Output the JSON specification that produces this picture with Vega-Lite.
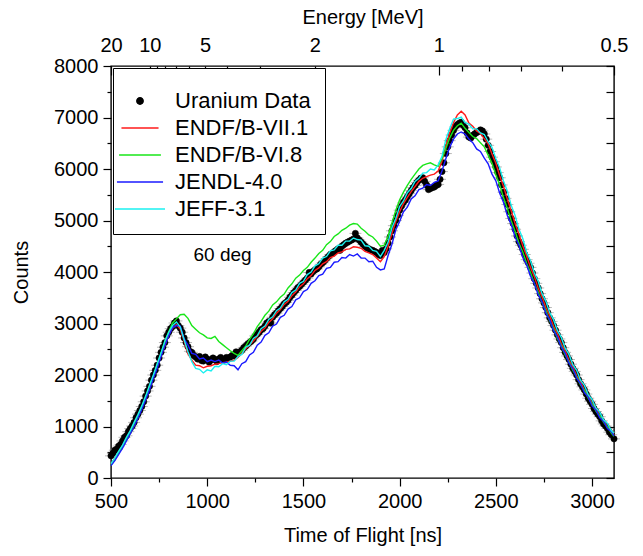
{
  "$schema": "https://vega.github.io/schema/vega-lite/v6.json",
  "width": 503,
  "height": 412,
  "autosize": "none",
  "padding": {"left": 111, "top": 66, "right": 29, "bottom": 78},
  "background": "white",
  "config": {
    "font": "Liberation Sans",
    "view": {"stroke": "#000", "strokeWidth": 1.4},
    "axis": {
      "domain": false, "grid": false, "tickColor": "#000", "tickWidth": 1.2,
      "labelColor": "#000", "titleColor": "#000", "labelFontSize": 20, "titleFontSize": 20,
      "titleFontWeight": "normal", "labelFlush": false, "labelOverlap": false
    },
    "legend": {
      "orient": "top-left", "offset": 2, "padding": 14, "strokeColor": "#000", "strokeWidth": 1,
      "fillColor": "#fff", "cornerRadius": 0, "labelFontSize": 22, "labelColor": "#000",
      "labelOffset": 24, "symbolOffset": 2, "rowPadding": 5, "symbolStrokeWidth": 1.5,
      "titleFontSize": 4, "titlePadding": 4, "labelLimit": 400, "titleLimit": 1000
    }
  },
  "datasets": {
    "d": [
      {"t":500,"U":430,"R":270,"G":250,"B":240,"C":280},
      {"t":510,"U":480},
      {"t":520,"U":540,"R":390,"G":350,"B":340,"C":390},
      {"t":530,"U":560},
      {"t":540,"U":620,"R":490,"G":500,"B":460,"C":520},
      {"t":550,"U":650},
      {"t":560,"U":720,"R":630,"G":600,"B":580,"C":640},
      {"t":570,"U":790},
      {"t":580,"U":820,"R":750,"G":750,"B":720,"C":790},
      {"t":590,"U":900},
      {"t":600,"U":960,"R":910,"G":880,"B":860,"C":920},
      {"t":610,"U":1010},
      {"t":620,"U":1080,"R":1050,"G":1050,"B":1000,"C":1080},
      {"t":630,"U":1170},
      {"t":640,"U":1240,"R":1210,"G":1190,"B":1160,"C":1230},
      {"t":650,"U":1310},
      {"t":660,"U":1390,"R":1370,"G":1380,"B":1330,"C":1400},
      {"t":670,"U":1480},
      {"t":680,"U":1590,"R":1570,"G":1560,"B":1520,"C":1590},
      {"t":690,"U":1690},
      {"t":700,"U":1780,"R":1750,"G":1780,"B":1710,"C":1800},
      {"t":710,"U":1900},
      {"t":720,"U":2000,"R":1970,"G":1960,"B":1930,"C":2000},
      {"t":730,"U":2090},
      {"t":740,"U":2190,"R":2160,"G":2200,"B":2130,"C":2220},
      {"t":750,"U":2330},
      {"t":760,"U":2440,"R":2390,"G":2420,"B":2360,"C":2430},
      {"t":770,"U":2540},
      {"t":780,"U":2630,"R":2580,"G":2650,"B":2570,"C":2660},
      {"t":790,"U":2760},
      {"t":800,"U":2830,"R":2790,"G":2840,"B":2760,"C":2830},
      {"t":810,"U":2900},
      {"t":820,"U":2940,"R":2910,"G":3010,"B":2920,"C":2960},
      {"t":830,"U":3010},
      {"t":840,"U":3050,"R":2980,"G":3090,"B":2960,"C":3030},
      {"t":850,"U":2960},
      {"t":860,"U":2910,"R":2890,"G":3170,"B":2950,"C":2930},
      {"t":870,"U":2830},
      {"t":880,"U":2720,"R":2660,"G":3180,"B":2700,"C":2690},
      {"t":890,"U":2630},
      {"t":900,"U":2550,"R":2410,"G":3100,"B":2580,"C":2450},
      {"t":910,"U":2460},
      {"t":920,"U":2440,"R":2290,"G":2960,"B":2420,"C":2260},
      {"t":930,"U":2380},
      {"t":940,"U":2350,"R":2190,"G":2890,"B":2400,"C":2130},
      {"t":950,"U":2310},
      {"t":960,"U":2360,"R":2180,"G":2820,"B":2310,"C":2110},
      {"t":970,"U":2280},
      {"t":980,"U":2270,"R":2140,"G":2780,"B":2330,"C":2040},
      {"t":990,"U":2350},
      {"t":1000,"U":2310,"R":2170,"G":2720,"B":2260,"C":2100},
      {"t":1010,"U":2250},
      {"t":1020,"U":2290,"R":2180,"G":2710,"B":2290,"C":2080},
      {"t":1030,"U":2330},
      {"t":1040,"U":2300,"R":2210,"G":2750,"B":2260,"C":2170},
      {"t":1050,"U":2260},
      {"t":1060,"U":2310,"R":2220,"G":2650,"B":2290,"C":2160},
      {"t":1070,"U":2340},
      {"t":1080,"U":2300,"R":2240,"G":2590,"B":2230,"C":2220},
      {"t":1090,"U":2290},
      {"t":1100,"U":2340,"R":2250,"G":2530,"B":2250,"C":2200},
      {"t":1110,"U":2310},
      {"t":1120,"U":2350,"R":2270,"G":2470,"B":2190,"C":2270},
      {"t":1130,"U":2380},
      {"t":1140,"U":2370,"R":2290,"G":2420,"B":2180,"C":2270},
      {"t":1150,"U":2450},
      {"t":1160,"U":2420,"R":2340,"G":2380,"B":2100,"C":2360},
      {"t":1170,"U":2450},
      {"t":1180,"U":2480,"R":2430,"G":2470,"B":2220,"C":2400},
      {"t":1190,"U":2530},
      {"t":1200,"U":2560,"R":2510,"G":2560,"B":2260,"C":2540},
      {"t":1210,"U":2600},
      {"t":1220,"U":2630,"R":2580,"G":2690,"B":2390,"C":2580},
      {"t":1230,"U":2660},
      {"t":1240,"U":2700,"R":2660,"G":2800,"B":2440,"C":2710},
      {"t":1250,"U":2760},
      {"t":1260,"U":2790,"R":2750,"G":2940,"B":2580,"C":2760},
      {"t":1270,"U":2830},
      {"t":1280,"U":2880,"R":2850,"G":3040,"B":2640,"C":2900},
      {"t":1290,"U":2900},
      {"t":1300,"U":2950,"R":2910,"G":3160,"B":2770,"C":2950},
      {"t":1310,"U":3010},
      {"t":1320,"U":3040,"R":3020,"G":3240,"B":2820,"C":3080},
      {"t":1330,"U":3010},
      {"t":1340,"U":3120,"R":3090,"G":3360,"B":2950,"C":3130},
      {"t":1350,"U":3170},
      {"t":1360,"U":3200,"R":3200,"G":3420,"B":2990,"C":3250},
      {"t":1370,"U":3250},
      {"t":1380,"U":3290,"R":3270,"G":3510,"B":3120,"C":3300},
      {"t":1390,"U":3330},
      {"t":1400,"U":3380,"R":3370,"G":3570,"B":3160,"C":3420},
      {"t":1410,"U":3410},
      {"t":1420,"U":3450,"R":3430,"G":3690,"B":3280,"C":3470},
      {"t":1430,"U":3510},
      {"t":1440,"U":3550,"R":3540,"G":3770,"B":3330,"C":3600},
      {"t":1450,"U":3600},
      {"t":1460,"U":3640,"R":3610,"G":3880,"B":3460,"C":3650},
      {"t":1470,"U":3690},
      {"t":1480,"U":3720,"R":3710,"G":3940,"B":3500,"C":3780},
      {"t":1490,"U":3760},
      {"t":1500,"U":3800,"R":3770,"G":4030,"B":3620,"C":3820},
      {"t":1510,"U":3840},
      {"t":1520,"U":3880,"R":3870,"G":4090,"B":3660,"C":3950},
      {"t":1530,"U":3990},
      {"t":1540,"U":3960,"R":3930,"G":4190,"B":3780,"C":4000},
      {"t":1550,"U":4010},
      {"t":1560,"U":4040,"R":4030,"G":4270,"B":3830,"C":4120},
      {"t":1570,"U":4060},
      {"t":1580,"U":4100,"R":4080,"G":4360,"B":3930,"C":4160},
      {"t":1590,"U":4150},
      {"t":1600,"U":4180,"R":4160,"G":4420,"B":3960,"C":4270},
      {"t":1610,"U":4220},
      {"t":1620,"U":4260,"R":4200,"G":4530,"B":4070,"C":4300},
      {"t":1630,"U":4300},
      {"t":1640,"U":4340,"R":4280,"G":4590,"B":4090,"C":4410},
      {"t":1650,"U":4360},
      {"t":1660,"U":4390,"R":4310,"G":4690,"B":4190,"C":4430},
      {"t":1670,"U":4420},
      {"t":1680,"U":4450,"R":4370,"G":4740,"B":4200,"C":4520},
      {"t":1690,"U":4420},
      {"t":1700,"U":4500,"R":4390,"G":4810,"B":4280,"C":4520},
      {"t":1710,"U":4530},
      {"t":1720,"U":4560,"R":4440,"G":4850,"B":4270,"C":4600},
      {"t":1730,"U":4580},
      {"t":1740,"U":4600,"R":4450,"G":4910,"B":4340,"C":4600},
      {"t":1750,"U":4620},
      {"t":1760,"U":4640,"R":4490,"G":4940,"B":4310,"C":4660},
      {"t":1770,"U":4750},
      {"t":1780,"U":4660,"R":4480,"G":4930,"B":4350,"C":4630},
      {"t":1790,"U":4620},
      {"t":1800,"U":4580,"R":4460,"G":4850,"B":4270,"C":4620},
      {"t":1810,"U":4540},
      {"t":1820,"U":4500,"R":4400,"G":4790,"B":4270,"C":4510},
      {"t":1830,"U":4470},
      {"t":1840,"U":4450,"R":4370,"G":4720,"B":4200,"C":4500},
      {"t":1850,"U":4430},
      {"t":1860,"U":4420,"R":4340,"G":4680,"B":4210,"C":4420},
      {"t":1870,"U":4400},
      {"t":1880,"U":4380,"R":4270,"G":4600,"B":4090,"C":4400},
      {"t":1890,"U":4340},
      {"t":1900,"U":4320,"R":4200,"G":4500,"B":4040,"C":4300},
      {"t":1910,"U":4420},
      {"t":1920,"U":4380,"R":4300,"G":4520,"B":4060,"C":4420},
      {"t":1930,"U":4450},
      {"t":1940,"U":4560,"R":4500,"G":4700,"B":4320,"C":4580},
      {"t":1950,"U":4680},
      {"t":1960,"U":4800,"R":4750,"G":4950,"B":4540,"C":4860},
      {"t":1970,"U":4900},
      {"t":1980,"U":5000,"R":4980,"G":5200,"B":4820,"C":5040},
      {"t":1990,"U":5100},
      {"t":2000,"U":5200,"R":5170,"G":5400,"B":4980,"C":5270},
      {"t":2010,"U":5280},
      {"t":2020,"U":5350,"R":5330,"G":5550,"B":5170,"C":5380},
      {"t":2030,"U":5400},
      {"t":2040,"U":5460,"R":5450,"G":5680,"B":5260,"C":5540},
      {"t":2050,"U":5520},
      {"t":2060,"U":5580,"R":5560,"G":5800,"B":5420,"C":5620},
      {"t":2070,"U":5640},
      {"t":2080,"U":5680,"R":5660,"G":5900,"B":5480,"C":5760},
      {"t":2090,"U":5740},
      {"t":2100,"U":5780,"R":5760,"G":6000,"B":5600,"C":5820},
      {"t":2110,"U":5820},
      {"t":2120,"U":5830,"R":5820,"G":6070,"B":5630,"C":5920},
      {"t":2130,"U":5760},
      {"t":2140,"U":5690,"R":5850,"G":6100,"B":5700,"C":5930},
      {"t":2150,"U":5600},
      {"t":2160,"U":5620,"R":5880,"G":6120,"B":5680,"C":6000},
      {"t":2170,"U":5640},
      {"t":2180,"U":5650,"R":5900,"G":6080,"B":5740,"C":5980},
      {"t":2190,"U":5680},
      {"t":2200,"U":5700,"R":5960,"G":6050,"B":5770,"C":6080},
      {"t":2210,"U":5800},
      {"t":2220,"U":5950,"R":6150,"G":6200,"B":5960,"C":6240},
      {"t":2230,"U":6120},
      {"t":2240,"U":6300,"R":6450,"G":6400,"B":6200,"C":6570},
      {"t":2250,"U":6430},
      {"t":2260,"U":6550,"R":6700,"G":6600,"B":6420,"C":6780},
      {"t":2270,"U":6660},
      {"t":2280,"U":6750,"R":6900,"G":6750,"B":6580,"C":6970},
      {"t":2290,"U":6820},
      {"t":2300,"U":6860,"R":7050,"G":6840,"B":6680,"C":6980},
      {"t":2310,"U":6890},
      {"t":2320,"U":6910,"R":7120,"G":6890,"B":6720,"C":7010},
      {"t":2330,"U":6850},
      {"t":2340,"U":6800,"R":7050,"G":6790,"B":6680,"C":6900},
      {"t":2350,"U":6700},
      {"t":2360,"U":6620,"R":6890,"G":6710,"B":6580,"C":6870},
      {"t":2370,"U":6600},
      {"t":2380,"U":6650,"R":6830,"G":6630,"B":6510,"C":6780},
      {"t":2390,"U":6680},
      {"t":2400,"U":6710,"R":6740,"G":6590,"B":6390,"C":6780},
      {"t":2410,"U":6730},
      {"t":2420,"U":6760,"R":6690,"G":6510,"B":6340,"C":6700},
      {"t":2430,"U":6740},
      {"t":2440,"U":6680,"R":6590,"G":6430,"B":6210,"C":6670},
      {"t":2450,"U":6580},
      {"t":2460,"U":6460,"R":6490,"G":6270,"B":6100,"C":6530},
      {"t":2470,"U":6340},
      {"t":2480,"U":6230,"R":6290,"G":6110,"B":5900,"C":6420},
      {"t":2490,"U":6140},
      {"t":2500,"U":6040,"R":6110,"G":5890,"B":5770,"C":6200},
      {"t":2510,"U":5930},
      {"t":2520,"U":5830,"R":5870,"G":5690,"B":5530,"C":6020},
      {"t":2530,"U":5690},
      {"t":2540,"U":5550,"R":5660,"G":5440,"B":5350,"C":5760},
      {"t":2550,"U":5430},
      {"t":2560,"U":5310,"R":5410,"G":5230,"B":5090,"C":5570},
      {"t":2570,"U":5170},
      {"t":2580,"U":5040,"R":5190,"G":4990,"B":4920,"C":5290},
      {"t":2590,"U":4940},
      {"t":2600,"U":4830,"R":4940,"G":4790,"B":4680,"C":5100},
      {"t":2610,"U":4700},
      {"t":2620,"U":4590,"R":4740,"G":4560,"B":4520,"C":4830},
      {"t":2630,"U":4520},
      {"t":2640,"U":4440,"R":4510,"G":4390,"B":4280,"C":4650},
      {"t":2650,"U":4340},
      {"t":2660,"U":4240,"R":4310,"G":4170,"B":4140,"C":4380},
      {"t":2670,"U":4170},
      {"t":2680,"U":4090,"R":4090,"G":3990,"B":3920,"C":4220},
      {"t":2690,"U":3980},
      {"t":2700,"U":3870,"R":3910,"G":3780,"B":3780,"C":3980},
      {"t":2710,"U":3780},
      {"t":2720,"U":3690,"R":3690,"G":3610,"B":3560,"C":3820},
      {"t":2730,"U":3580},
      {"t":2740,"U":3480,"R":3520,"G":3410,"B":3420,"C":3580},
      {"t":2750,"U":3400},
      {"t":2760,"U":3310,"R":3310,"G":3250,"B":3200,"C":3430},
      {"t":2770,"U":3210},
      {"t":2780,"U":3110,"R":3150,"G":3050,"B":3070,"C":3210},
      {"t":2790,"U":3040},
      {"t":2800,"U":2960,"R":2950,"G":2900,"B":2860,"C":3070},
      {"t":2810,"U":2870},
      {"t":2820,"U":2780,"R":2800,"G":2710,"B":2740,"C":2860},
      {"t":2830,"U":2700},
      {"t":2840,"U":2630,"R":2610,"G":2570,"B":2540,"C":2730},
      {"t":2850,"U":2530},
      {"t":2860,"U":2440,"R":2470,"G":2390,"B":2420,"C":2520},
      {"t":2870,"U":2370},
      {"t":2880,"U":2300,"R":2290,"G":2260,"B":2230,"C":2400},
      {"t":2890,"U":2210},
      {"t":2900,"U":2130,"R":2160,"G":2090,"B":2120,"C":2200},
      {"t":2910,"U":2070},
      {"t":2920,"U":2000,"R":1990,"G":1970,"B":1940,"C":2090},
      {"t":2930,"U":1910},
      {"t":2940,"U":1830,"R":1870,"G":1810,"B":1830,"C":1900},
      {"t":2950,"U":1770},
      {"t":2960,"U":1710,"R":1710,"G":1700,"B":1660,"C":1800},
      {"t":2970,"U":1630},
      {"t":2980,"U":1550,"R":1600,"G":1550,"B":1570,"C":1620},
      {"t":2990,"U":1490},
      {"t":3000,"U":1430,"R":1450,"G":1440,"B":1400,"C":1520},
      {"t":3010,"U":1350},
      {"t":3020,"U":1290,"R":1350,"G":1300,"B":1320,"C":1360},
      {"t":3030,"U":1240},
      {"t":3040,"U":1190,"R":1210,"G":1210,"B":1170,"C":1280},
      {"t":3050,"U":1110},
      {"t":3060,"U":1050,"R":1120,"G":1080,"B":1100,"C":1130},
      {"t":3070,"U":1010},
      {"t":3080,"U":960,"R":990,"G":990,"B":960,"C":1060},
      {"t":3090,"U":890},
      {"t":3100,"U":840,"R":910,"G":870,"B":900,"C":920},
      {"t":3114,"U":760,"R":830,"G":810,"B":820,"C":870}
    ]
  },
  "resolve": {"axis": {"x": "independent", "y": "independent"}},
  "layer": [
    {
      "data": {"name": "d"},
      "transform": [{"fold": ["U"], "as": ["k", "c"]}, {"filter": "isValid(datum.c)"}],
      "mark": {"type": "tick", "orient": "horizontal", "color": "#9a9a9a", "size": 12, "thickness": 1},
      "encoding": {
        "x": {"field": "t", "type": "quantitative", "scale": {"domain": [500, 3114], "nice": false},
              "axis": {"orient": "bottom", "values": [750, 1250, 1750, 2250, 2750], "tickSize": 4, "labels": false, "title": null}},
        "y": {"field": "c", "type": "quantitative", "scale": {"domain": [0, 8000], "nice": false},
              "axis": {"orient": "left", "values": [500, 1500, 2500, 3500, 4500, 5500, 6500, 7500], "tickSize": 4, "labels": false, "title": null}}
      }
    },
    {
      "data": {"name": "d"},
      "transform": [{"fold": ["U"], "as": ["k", "c"]}, {"filter": "isValid(datum.c)"}],
      "mark": {"type": "point", "filled": true, "opacity": 1, "strokeWidth": 0.5},
      "encoding": {
        "x": {"field": "t", "type": "quantitative", "scale": {"domain": [500, 3114], "nice": false},
              "axis": {"orient": "bottom", "values": [500, 1000, 1500, 2000, 2500, 3000], "format": "d", "tickSize": 8, "labelPadding": 5, "title": "Time of Flight [ns]", "titlePadding": 14}},
        "y": {"field": "c", "type": "quantitative", "scale": {"domain": [0, 8000], "nice": false},
              "axis": {"orient": "left", "values": [0, 1000, 2000, 3000, 4000, 5000, 6000, 7000, 8000], "format": "d", "tickSize": 8, "labelPadding": 5, "title": "Counts", "titlePadding": 22}},
        "fill": {"field": "k", "type": "nominal",
                 "scale": {"domain": ["U", "R", "G", "B", "C"], "range": ["#000000", "#ff1a1a", "#19e619", "#1a1aff", "#1af0f0"]},
                 "legend": {"title": "   ", "labelExpr": "datum.label == 'U' ? 'Uranium Data' : datum.label == 'R' ? 'ENDF/B-VII.1' : datum.label == 'G' ? 'ENDF/B-VI.8' : datum.label == 'B' ? 'JENDL-4.0' : 'JEFF-3.1'"}},
        "stroke": {"field": "k", "type": "nominal",
                   "scale": {"domain": ["U", "R", "G", "B", "C"], "range": ["#000000", "#ff1a1a", "#19e619", "#1a1aff", "#1af0f0"]},
                   "legend": {"title": "   ", "labelExpr": "datum.label == 'U' ? 'Uranium Data' : datum.label == 'R' ? 'ENDF/B-VII.1' : datum.label == 'G' ? 'ENDF/B-VI.8' : datum.label == 'B' ? 'JENDL-4.0' : 'JEFF-3.1'"}},
        "shape": {"field": "k", "type": "nominal",
                  "scale": {"domain": ["U", "R", "G", "B", "C"], "range": ["circle", "M-5,0H5", "M-5,0H5", "M-5,0H5", "M-5,0H5"]},
                  "legend": {"title": "   ", "labelExpr": "datum.label == 'U' ? 'Uranium Data' : datum.label == 'R' ? 'ENDF/B-VII.1' : datum.label == 'G' ? 'ENDF/B-VI.8' : datum.label == 'B' ? 'JENDL-4.0' : 'JEFF-3.1'"}},
        "size": {"field": "k", "type": "nominal",
                 "scale": {"domain": ["U", "R", "G", "B", "C"], "range": [40, 100, 100, 100, 100]},
                 "legend": {"title": "   ", "labelExpr": "datum.label == 'U' ? 'Uranium Data' : datum.label == 'R' ? 'ENDF/B-VII.1' : datum.label == 'G' ? 'ENDF/B-VI.8' : datum.label == 'B' ? 'JENDL-4.0' : 'JEFF-3.1'"}}
      }
    },
    {
      "data": {"name": "d"},
      "transform": [{"fold": ["R", "G", "B", "C"], "as": ["k", "c"]}, {"filter": "isValid(datum.c)"}],
      "mark": {"type": "line", "strokeWidth": 1.4},
      "encoding": {
        "x": {"field": "t", "type": "quantitative", "scale": {"domain": [500, 3114], "nice": false},
              "axis": {"orient": "top", "values": [500, 701.4, 988.2, 1558.8, 2203, 3114], "labelExpr": "datum.value < 600 ? '20' : datum.value < 800 ? '10' : datum.value < 1200 ? '5' : datum.value < 1800 ? '2' : datum.value < 2600 ? '1' : '0.5'", "tickSize": -9, "labelPadding": 20, "title": "Energy [MeV]", "titlePadding": 8}},
        "y": {"field": "c", "type": "quantitative", "scale": {"domain": [0, 8000], "nice": false},
              "axis": {"orient": "right", "values": [0, 500, 1000, 1500, 2000, 2500, 3000, 3500, 4000, 4500, 5000, 5500, 6000, 6500, 7000, 7500, 8000], "tickSize": -8, "labels": false, "title": null}},
        "stroke": {"field": "k", "type": "nominal",
                   "scale": {"domain": ["U", "R", "G", "B", "C"], "range": ["#000000", "#ff1a1a", "#19e619", "#1a1aff", "#1af0f0"]},
                   "legend": {"title": "   ", "labelExpr": "datum.label == 'U' ? 'Uranium Data' : datum.label == 'R' ? 'ENDF/B-VII.1' : datum.label == 'G' ? 'ENDF/B-VI.8' : datum.label == 'B' ? 'JENDL-4.0' : 'JEFF-3.1'"}}
      }
    },
    {
      "data": {"values": [{"t": 1080, "c": 4330, "label": "60 deg"}]},
      "mark": {"type": "text", "fontSize": 19, "color": "#000", "align": "center", "baseline": "middle"},
      "encoding": {
        "x": {"field": "t", "type": "quantitative", "scale": {"domain": [500, 3114], "nice": false},
              "axis": {"orient": "top", "values": [738.9, 783.1, 836.5, 902.8, 1103.9, 1273.8, 2322.2, 2462.0, 2631.4, 2842.6], "tickSize": -5, "labels": false, "title": null}},
        "y": {"field": "c", "type": "quantitative", "scale": {"domain": [0, 8000], "nice": false}, "axis": null},
        "text": {"field": "label", "type": "nominal"}
      }
    }
  ]
}
